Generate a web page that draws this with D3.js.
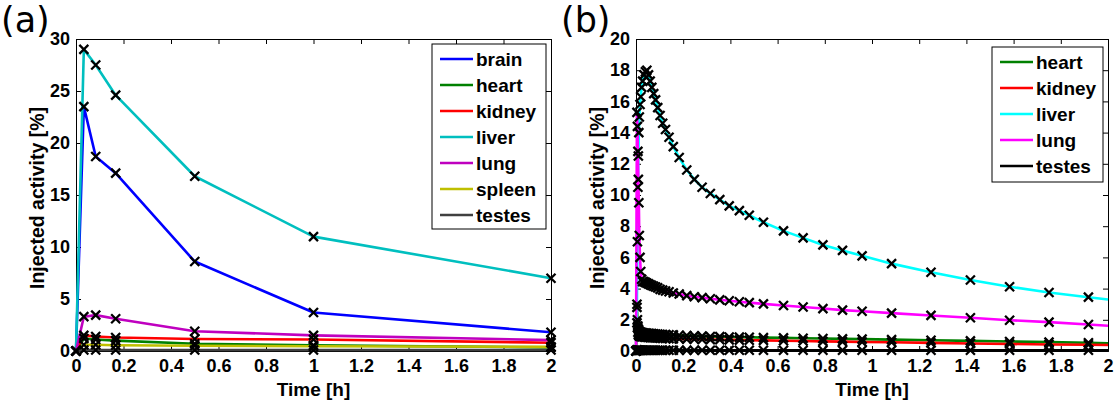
<!DOCTYPE html>
<html>
<head>
<meta charset="utf-8">
<script src="https://cdn.jsdelivr.net/npm/d3@7"></script>
<style>
  body { margin: 0; background: #fff; }
  svg text { font-family: "Liberation Sans", Arial, sans-serif; font-weight: bold; fill: #000; }
  .tick line, .domain { stroke: #000; }
  .panel-tag { font-family: "DejaVu Sans", sans-serif; font-weight: normal; }
</style>
</head>
<body>
<script>
// panel (a) - measured points
var timeA = [0, 0.033, 0.083, 0.167, 0.5, 1, 2];
var brainA  = [0, 23.5, 18.7, 17.1, 8.6, 3.7, 1.8];
var heartA  = [0, 1.2, 1.1, 1.0, 0.7, 0.55, 0.35];
var kidneyA = [0, 1.5, 1.4, 1.3, 1.15, 1.1, 0.8];
var liverA  = [0, 29, 27.5, 24.6, 16.8, 11.0, 7.0];
var lungA   = [0, 3.3, 3.45, 3.1, 1.9, 1.5, 1.05];
var spleenA = [0, 0.6, 0.6, 0.55, 0.5, 0.45, 0.4];
var testesA = [0, 0.1, 0.1, 0.1, 0.1, 0.1, 0.1];

// panel (b) - frame times, last value (t=2) has no marker
var timeB = [0, 0.004, 0.006, 0.008, 0.010, 0.012, 0.014, 0.017, 0.020, 0.024, 0.028, 0.034, 0.040, 0.046, 0.053, 0.060,
  0.067, 0.075, 0.083, 0.092, 0.102, 0.113, 0.125, 0.140, 0.158, 0.183, 0.215, 0.247, 0.280, 0.315, 0.355, 0.395,
  0.438, 0.480, 0.540, 0.625, 0.708, 0.792, 0.875, 0.958, 1.083, 1.250, 1.417, 1.583, 1.750, 1.917, 2.0];
var heartB = [0, 2.8, 2.0, 1.6, 1.4, 1.3, 1.25, 1.2, 1.2, 1.18, 1.17, 1.15, 1.15, 1.14, 1.13, 1.12,
  1.11, 1.1, 1.09, 1.08, 1.07, 1.06, 1.05, 1.04, 1.03, 1.01, 0.99, 0.97, 0.95, 0.93, 0.92, 0.9,
  0.89, 0.88, 0.86, 0.84, 0.82, 0.8, 0.78, 0.76, 0.73, 0.69, 0.65, 0.61, 0.57, 0.53, 0.5];
var kidneyB = [0, 1.8, 1.5, 1.2, 1.05, 1.0, 0.97, 0.95, 0.93, 0.92, 0.91, 0.9, 0.89, 0.88, 0.87, 0.86,
  0.85, 0.85, 0.84, 0.83, 0.82, 0.81, 0.8, 0.79, 0.78, 0.77, 0.76, 0.75, 0.74, 0.73, 0.72, 0.71,
  0.7, 0.69, 0.68, 0.66, 0.64, 0.62, 0.6, 0.58, 0.56, 0.52, 0.48, 0.45, 0.42, 0.4, 0.38];
var liverB = [0, 3, 7, 10.5, 12.5, 14, 15, 15.8, 16.3, 16.9, 17.3, 17.7, 17.9, 18.0, 17.7, 17.3,
  16.9, 16.5, 16.1, 15.6, 15.1, 14.6, 14.2, 13.7, 13.1, 12.4, 11.6, 11.0, 10.5, 10.1, 9.7, 9.3,
  9.0, 8.7, 8.25, 7.7, 7.25, 6.8, 6.45, 6.1, 5.6, 5.05, 4.55, 4.12, 3.75, 3.45, 3.3];
var lungB = [0, 15.3, 14.4, 12.8, 11.0, 9.5, 7.4, 6.0, 5.1, 4.6, 4.45, 4.45, 4.4, 4.35, 4.3, 4.25,
  4.2, 4.15, 4.1, 4.05, 3.95, 3.9, 3.85, 3.8, 3.72, 3.65, 3.55, 3.48, 3.42, 3.35, 3.28, 3.22,
  3.16, 3.1, 3.02, 2.92, 2.82, 2.72, 2.62, 2.55, 2.43, 2.28, 2.13, 1.97, 1.85, 1.7, 1.62];
var testesB = [0, 0.08, 0.06, 0.05, 0.05, 0.05, 0.05, 0.05, 0.05, 0.05, 0.05, 0.05, 0.05, 0.05, 0.05, 0.05,
  0.05, 0.05, 0.05, 0.05, 0.05, 0.05, 0.05, 0.05, 0.05, 0.05, 0.05, 0.05, 0.05, 0.05, 0.05, 0.05,
  0.05, 0.05, 0.05, 0.05, 0.05, 0.05, 0.05, 0.05, 0.05, 0.05, 0.05, 0.05, 0.05, 0.05, 0.05];

var xTicks = [0, 0.2, 0.4, 0.6, 0.8, 1, 1.2, 1.4, 1.6, 1.8, 2];
var yTicksA = [0, 5, 10, 15, 20, 25, 30];
var yTicksB = [0, 2, 4, 6, 8, 10, 12, 14, 16, 18, 20];

var seriesA = [
  {name: "brain", color: "#0000ff", values: brainA},
  {name: "heart", color: "#008000", values: heartA},
  {name: "kidney", color: "#ff0000", values: kidneyA},
  {name: "liver", color: "#00bfbf", values: liverA},
  {name: "lung", color: "#bf00bf", values: lungA},
  {name: "spleen", color: "#bfbf00", values: spleenA},
  {name: "testes", color: "#404040", values: testesA}
];
var seriesB = [
  {name: "heart", color: "#008000", values: heartB},
  {name: "kidney", color: "#ff0000", values: kidneyB},
  {name: "liver", color: "#00ffff", values: liverB},
  {name: "lung", color: "#ff00ff", values: lungB},
  {name: "testes", color: "#000000", values: testesB}
];

var W = 1116, H = 401;
var svg = d3.select("body").append("svg")
  .attr("width", W)
  .attr("height", H);

function drawPanel(opt){
  var x = d3.scaleLinear().domain([0, 2]).range([opt.left, opt.right]);
  var y = d3.scaleLinear().domain([0, opt.yMax]).range([opt.bottom, opt.top]);
  var g = svg.append("g");

  // axes with inward ticks on all four sides (matlab box style)
  g.append("g")
    .attr("transform", "translate(0," + opt.bottom + ")")
    .call(d3.axisBottom(x).tickValues(xTicks).tickSize(-5).tickPadding(8).tickFormat(d3.format("")))
    .call(function(a){ a.selectAll("text").style("font-size", "18px"); });
  g.append("g")
    .attr("transform", "translate(0," + opt.top + ")")
    .call(d3.axisTop(x).tickValues(xTicks).tickSize(-5).tickFormat(""));
  g.append("g")
    .attr("transform", "translate(" + opt.left + ",0)")
    .call(d3.axisLeft(y).tickValues(opt.yTicks).tickSize(-5).tickPadding(6))
    .call(function(a){ a.selectAll("text").style("font-size", "18px"); });
  g.append("g")
    .attr("transform", "translate(" + opt.right + ",0)")
    .call(d3.axisRight(y).tickValues(opt.yTicks).tickSize(-5).tickFormat(""));
  g.selectAll(".domain").attr("stroke-width", 1);

  var line = d3.line()
    .x(function(d){ return x(d[0]); })
    .y(function(d){ return y(d[1]); });

  opt.series.forEach(function(s){
    var pts = opt.times.map(function(t, i){ return [t, s.values[i]]; });
    g.append("path")
      .attr("d", line(pts))
      .attr("fill", "none")
      .attr("stroke", s.color)
      .attr("stroke-width", 2.6)
      .attr("stroke-linejoin", "round");
  });
  // black x markers on top
  opt.series.forEach(function(s){
    var pts = opt.times.map(function(t, i){ return [t, s.values[i]]; })
      .slice(0, opt.markerCount);
    g.selectAll(null)
      .data(pts)
      .enter()
      .append("path")
      .attr("transform", function(d){ return "translate(" + x(d[0]) + "," + y(d[1]) + ")"; })
      .attr("d", "M-4.5,-4.5L4.5,4.5M-4.5,4.5L4.5,-4.5")
      .attr("stroke", "#000")
      .attr("stroke-width", 2.3);
  });

  // axis titles
  g.append("text")
    .attr("x", (opt.left + opt.right) / 2)
    .attr("y", 396)
    .attr("text-anchor", "middle")
    .style("font-size", "19px")
    .text("Time [h]");
  g.append("text")
    .attr("transform", "translate(" + (opt.left - 32) + "," + ((opt.top + opt.bottom) / 2 + 3) + ") rotate(-90)")
    .attr("text-anchor", "middle")
    .style("font-size", "19.5px")
    .text("Injected activity [%]");

  g.append("text")
    .attr("class", "panel-tag")
    .attr("x", opt.left - 75)
    .attr("y", 32)
    .style("font-size", "35px")
    .text(opt.tag);

  // legend
  var lg = opt.legend;
  g.append("rect")
    .attr("x", lg.x).attr("y", lg.y)
    .attr("width", lg.w).attr("height", lg.h)
    .attr("fill", "#fff")
    .attr("stroke", "#000")
    .attr("stroke-width", 1);
  opt.series.forEach(function(s, i){
    var cy = lg.y + 15 + i * 26;
    g.append("line")
      .attr("x1", lg.x + 8).attr("x2", lg.x + 41)
      .attr("y1", cy).attr("y2", cy)
      .attr("stroke", s.color)
      .attr("stroke-width", 2.6);
    g.append("text")
      .attr("x", lg.x + 44)
      .attr("y", cy + 7)
      .style("font-size", "19px")
      .text(s.name);
  });
}

drawPanel({
  tag: "(a)", left: 76, right: 551, top: 39, bottom: 351,
  yMax: 30, yTicks: yTicksA, times: timeA, series: seriesA, markerCount: timeA.length,
  legend: {x: 432, y: 44, w: 114, h: 185}
});
drawPanel({
  tag: "(b)", left: 636, right: 1108, top: 39, bottom: 351,
  yMax: 20, yTicks: yTicksB, times: timeB, series: seriesB, markerCount: timeB.length - 1,
  legend: {x: 992, y: 47, w: 111, h: 135}
});
</script>
</body>
</html>
